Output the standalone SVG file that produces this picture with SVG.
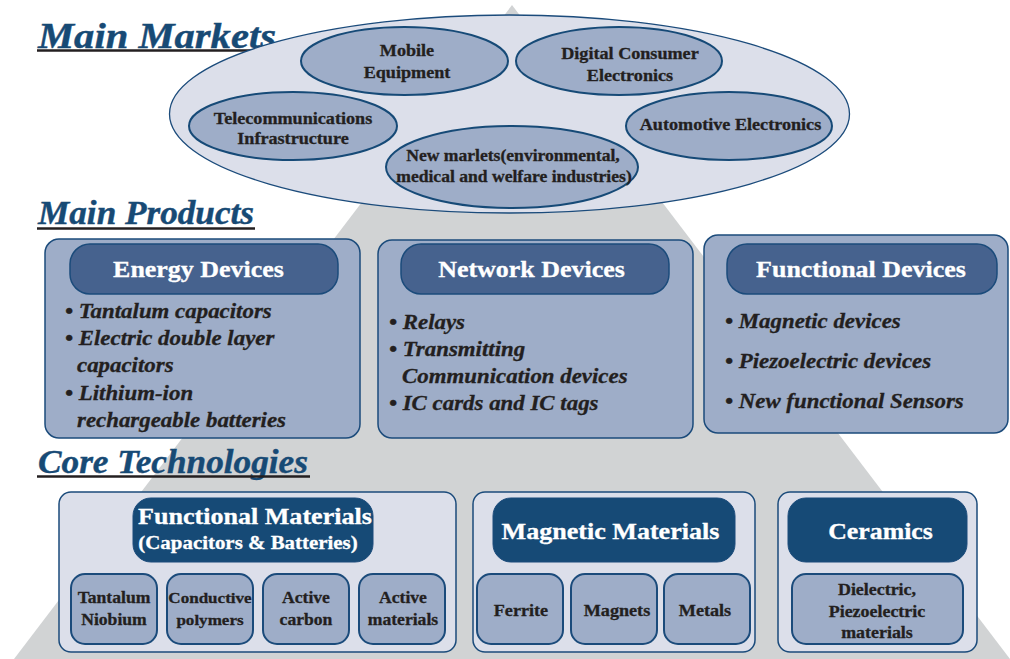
<svg xmlns="http://www.w3.org/2000/svg" width="1010" height="659" viewBox="0 0 1010 659">
<style>
.bg{fill:#d1d3d4}
.big{fill:#dcdfea;stroke:#1b4b7b;stroke-width:1.3}
.el{fill:#9eadc8;stroke:#164a77;stroke-width:2}
.pbox{fill:#9eadc8;stroke:#1b4b7b;stroke-width:1.5}
.phead{fill:#46628e;stroke:#1b4b7b;stroke-width:1.5}
.cbox{fill:#dcdfea;stroke:#1b4b7b;stroke-width:1.5}
.chead{fill:#164a76;stroke:#1b4b7b;stroke-width:1}
.sub{fill:#9eadc8;stroke:#1b4b7b;stroke-width:2}
.title{font-family:"Liberation Serif",serif;font-weight:bold;font-style:italic;fill:#174a75;stroke:#174a75;stroke-width:0.4}
.uline{stroke:#231f20;stroke-width:2.6}
.t{font-family:"Liberation Serif",serif;font-weight:bold;fill:#231f20;stroke:#231f20;stroke-width:0.3;text-anchor:middle;transform-box:fill-box;transform-origin:50% 50%;transform:scaleX(1.1)}
.w{font-family:"Liberation Serif",serif;font-weight:bold;fill:#ffffff;stroke:#ffffff;stroke-width:0.3;text-anchor:middle;transform-box:fill-box;transform-origin:50% 50%;transform:scaleX(1.1)}
.b{font-family:"Liberation Serif",serif;font-weight:bold;font-style:italic;fill:#231f20;stroke:#231f20;stroke-width:0.3;font-size:20.8px;transform-box:fill-box;transform-origin:0 50%;transform:scaleX(1.1)}
</style>
<polygon class="bg" points="512,5 14,659 1010,659"/>

<g id="headings">
<text class="title" x="38" y="48" font-size="35.5" textLength="238" lengthAdjust="spacingAndGlyphs">Main Markets</text>
<line class="uline" x1="37" y1="50.5" x2="278" y2="50.5"/>
<text class="title" x="38" y="224" font-size="33" textLength="216" lengthAdjust="spacingAndGlyphs">Main Products</text>
<line class="uline" x1="37" y1="228.5" x2="255" y2="228.5"/>
<text class="title" x="38" y="473" font-size="33" textLength="270" lengthAdjust="spacingAndGlyphs">Core Technologies</text>
<line class="uline" x1="37" y1="476.5" x2="310" y2="476.5"/>
</g>

<g id="markets">
<ellipse class="big" cx="509.5" cy="114" rx="340" ry="99"/>
<g id="m-mobile">
<ellipse class="el" cx="404.5" cy="61" rx="103.5" ry="34"/>
<text class="t" x="407" y="56" font-size="16.5">Mobile</text>
<text class="t" x="407" y="78" font-size="16.5">Equipment</text>
</g>
<g id="m-digital">
<ellipse class="el" cx="619" cy="61" rx="103" ry="34"/>
<text class="t" x="630" y="59" font-size="16.5">Digital Consumer</text>
<text class="t" x="630" y="81" font-size="16.5">Electronics</text>
</g>
<g id="m-telecom">
<ellipse class="el" cx="293" cy="126" rx="104" ry="34"/>
<text class="t" x="293" y="124" font-size="16.5">Telecommunications</text>
<text class="t" x="293" y="144.5" font-size="16.5">Infrastructure</text>
</g>
<g id="m-auto">
<ellipse class="el" cx="729" cy="126" rx="103" ry="34"/>
<text class="t" x="730.5" y="130" font-size="16.5">Automotive Electronics</text>
</g>
<g id="m-new">
<ellipse class="el" cx="512" cy="167" rx="126" ry="41"/>
<text class="t" x="513" y="161" font-size="16">New marlets(environmental,</text>
<text class="t" x="514" y="182" font-size="16">medical and welfare industries)</text>
</g>
</g>

<g id="p-energy">
<rect class="pbox" x="45" y="239" width="315" height="199" rx="14"/>
<rect class="phead" x="70" y="244" width="268" height="50" rx="20"/>
<text class="w" x="198.5" y="277" font-size="23.6">Energy Devices</text>
<text class="b" x="65" y="318">• Tantalum capacitors</text>
<text class="b" x="65" y="345.5">• Electric double layer</text>
<text class="b" x="77" y="372.5">capacitors</text>
<text class="b" x="65" y="400">• Lithium-ion</text>
<text class="b" x="77" y="427">rechargeable batteries</text>
</g>

<g id="p-network">
<rect class="pbox" x="378" y="240" width="315" height="198" rx="14"/>
<rect class="phead" x="401" y="244" width="268" height="50" rx="20"/>
<text class="w" x="531.5" y="277" font-size="23.6">Network Devices</text>
<text class="b" x="389" y="329">• Relays</text>
<text class="b" x="389" y="356">• Transmitting</text>
<text class="b" x="402" y="383">Communication devices</text>
<text class="b" x="389" y="410">• IC cards and IC tags</text>
</g>

<g id="p-functional">
<rect class="pbox" x="704" y="235" width="304" height="198" rx="14"/>
<rect class="phead" x="727" y="244" width="270" height="50" rx="20"/>
<text class="w" x="861" y="277" font-size="23.6">Functional Devices</text>
<text class="b" x="725" y="328">• Magnetic devices</text>
<text class="b" x="725" y="368">• Piezoelectric devices</text>
<text class="b" x="725" y="408">• New functional Sensors</text>
</g>

<g id="c-functional">
<rect class="cbox" x="59" y="492" width="397" height="160" rx="12"/>
<rect class="chead" x="133" y="498" width="240" height="64" rx="18"/>
<text class="w" x="255" y="524" font-size="23.7">Functional Materials</text>
<text class="w" x="248" y="549" font-size="19">(Capacitors &amp; Batteries)</text>
<g id="c-tantalum">
<rect class="sub" x="71" y="574" width="86" height="70" rx="14"/>
<text class="t" x="114" y="603" font-size="16">Tantalum</text>
<text class="t" x="114" y="625" font-size="16">Niobium</text>
</g>
<g id="c-conductive">
<rect class="sub" x="167" y="574" width="86" height="70" rx="14"/>
<text class="t" x="210" y="603" font-size="15.5">Conductive</text>
<text class="t" x="210" y="625" font-size="15.5">polymers</text>
</g>
<g id="c-carbon">
<rect class="sub" x="263" y="574" width="86" height="70" rx="14"/>
<text class="t" x="306" y="603" font-size="16">Active</text>
<text class="t" x="306" y="625" font-size="16">carbon</text>
</g>
<g id="c-active">
<rect class="sub" x="359" y="574" width="86" height="70" rx="14"/>
<text class="t" x="403" y="603" font-size="16">Active</text>
<text class="t" x="403" y="625" font-size="16">materials</text>
</g>
</g>

<g id="c-magnetic">
<rect class="cbox" x="473" y="492" width="282" height="160" rx="12"/>
<rect class="chead" x="493" y="498" width="242" height="64" rx="18"/>
<text class="w" x="610.5" y="539" font-size="23.7">Magnetic Materials</text>
<g id="c-ferrite">
<rect class="sub" x="477" y="574" width="86" height="70" rx="14"/>
<text class="t" x="521" y="616" font-size="16.5">Ferrite</text>
</g>
<g id="c-magnets">
<rect class="sub" x="571" y="574" width="86" height="70" rx="14"/>
<text class="t" x="617" y="616" font-size="16.5">Magnets</text>
</g>
<g id="c-metals">
<rect class="sub" x="664" y="574" width="86" height="70" rx="14"/>
<text class="t" x="705" y="616" font-size="16.5">Metals</text>
</g>
</g>

<g id="c-ceramics">
<rect class="cbox" x="778" y="492" width="199" height="160" rx="12"/>
<rect class="chead" x="788" y="498" width="179" height="64" rx="18"/>
<text class="w" x="880.5" y="539" font-size="23.5">Ceramics</text>
<g id="c-dielectric">
<rect class="sub" x="792" y="574" width="171" height="70" rx="14"/>
<text class="t" x="877" y="595" font-size="16.3">Dielectric,</text>
<text class="t" x="877" y="617" font-size="16.3">Piezoelectric</text>
<text class="t" x="877" y="638" font-size="16.3">materials</text>
</g>
</g>

<g id="connectors"></g>
</svg>
